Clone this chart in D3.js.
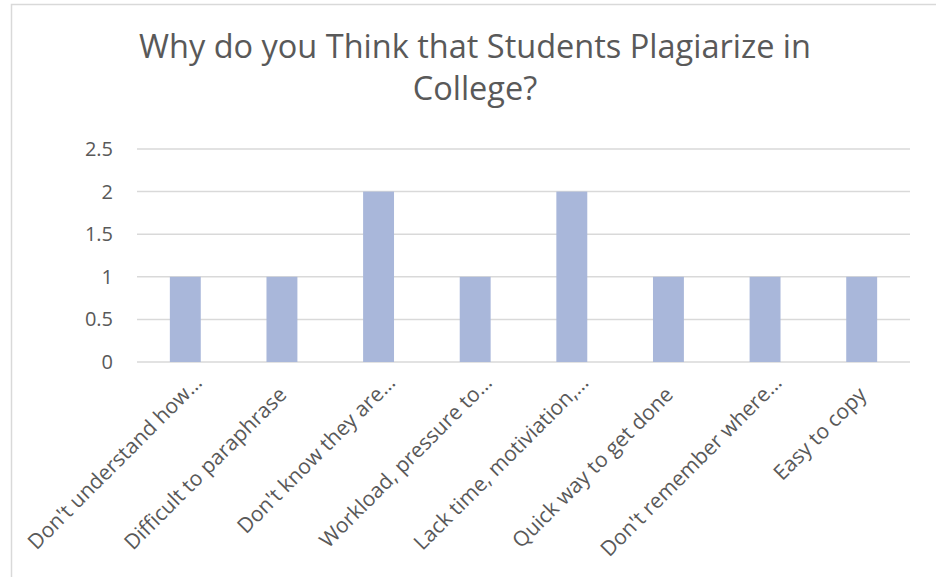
<!DOCTYPE html>
<html>
<head>
<meta charset="utf-8">
<script src="https://cdn.jsdelivr.net/npm/d3@7"></script>
<style>
  body { margin: 0; background: #fff; }
  text { font-family: "Open Sans", sans-serif; fill: #595959; }
</style>
</head>
<body>
<div id="chart"></div>
<script>
var categories = ["Don't understand how\u2026", "Difficult to paraphrase", "Don't know they are\u2026",
    "Workload, pressure to\u2026", "Lack time, motiviation,\u2026", "Quick way to get done",
    "Don't remember where\u2026", "Easy to copy"];
var counts = [1, 1, 2, 1, 2, 1, 1, 1];
var yTicks = [0, 0.5, 1, 1.5, 2, 2.5];
var titleLines = ["Why do you Think that Students Plagiarize in", "College?"];

var width = 936,
    height = 577;

var margin = {top: 149, right: 26, bottom: 215, left: 137};

var svg = d3.select("#chart")
    .append("svg")
    .attr("width", width)
    .attr("height", height);

/* chart border */
svg.append("rect")
    .attr("x", 11.5)
    .attr("y", 4.5)
    .attr("width", width)
    .attr("height", height)
    .attr("fill", "none")
    .attr("stroke", "#d9d9d9")
    .attr("stroke-width", 1.5);

/* title */
svg.append("g")
    .selectAll("text")
    .data(titleLines)
    .enter().append("text")
    .attr("x", 475)
    .attr("y", function(d, i) { return 58 + i * 42; })
    .attr("text-anchor", "middle")
    .style("font-size", "32.5px")
    .text(function(d) { return d; });

var x = d3.scaleBand()
    .domain(categories)
    .range([margin.left, width - margin.right])
    .paddingInner(0.68)
    .paddingOuter(0.34);

var y = d3.scaleLinear()
    .domain([0, 2.5])
    .range([height - margin.bottom, margin.top]);

/* gridlines */
svg.append("g")
    .selectAll("line")
    .data(yTicks)
    .enter().append("line")
    .attr("x1", margin.left)
    .attr("x2", width - margin.right)
    .attr("y1", function(d) { return y(d); })
    .attr("y2", function(d) { return y(d); })
    .attr("stroke", "#d9d9d9")
    .attr("stroke-width", 1.5);

/* y axis labels */
var yAxis = d3.axisLeft(y)
    .tickValues(yTicks)
    .tickSize(0)
    .tickPadding(24)
    .tickFormat(function(d) { return d; });

var gy = svg.append("g")
    .attr("transform", "translate(" + margin.left + ",0)")
    .call(yAxis);
gy.select(".domain").remove();
gy.selectAll("text")
    .style("font-size", "20px")
    .style("font-family", "Open Sans, sans-serif")
    .attr("fill", "#595959");

/* bars */
svg.append("g")
    .selectAll("rect")
    .data(counts)
    .enter().append("rect")
    .attr("x", function(d, i) { return x(categories[i]); })
    .attr("y", function(d) { return y(d); })
    .attr("width", x.bandwidth())
    .attr("height", function(d) { return y(0) - y(d); })
    .attr("fill", "#a9b7da");

/* x axis labels, truncated ones sit a little further along */
var xAxis = d3.axisBottom(x).tickSize(0);
var gx = svg.append("g")
    .attr("transform", "translate(0," + (height - margin.bottom) + ")")
    .call(xAxis);
gx.select(".domain").remove();
gx.selectAll("text")
    .style("font-size", "21px")
    .style("font-family", "Open Sans, sans-serif")
    .attr("fill", "#595959")
    .attr("text-anchor", "end")
    .attr("x", 0)
    .attr("y", 0)
    .attr("dy", 0)
    .attr("transform", function(d) {
        var cut = d.slice(-1) == "\u2026";
        return cut ? "translate(18,22) rotate(-45)" : "translate(6,34) rotate(-45)";
    });
</script>
</body>
</html>
